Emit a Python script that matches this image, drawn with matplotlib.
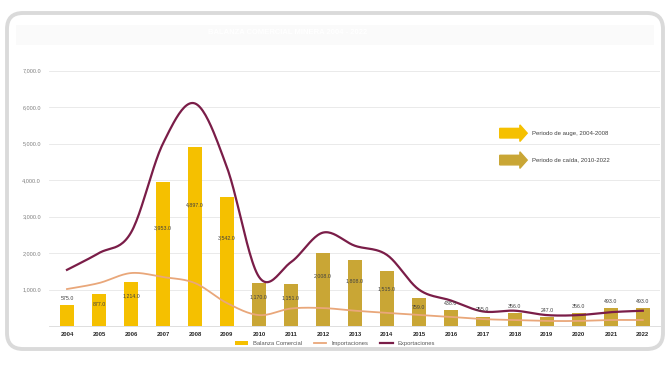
import numpy as np
import matplotlib
matplotlib.use("Agg")
import matplotlib.pyplot as plt
from matplotlib.patches import FancyBboxPatch, FancyArrow, Rectangle

plt.rcParams['font.family'] = ['Liberation Sans', 'DejaVu Sans']

years = [str(y) for y in range(2004, 2023)]
balanza = [575, 877, 1214, 3953, 4897, 3542, 1170, 1151, 2008, 1808, 1515,
           759, 438, 255, 356, 247, 356, 493, 493]
importaciones = [1014, 1178, 1452, 1342, 1178, 630, 300, 480, 493, 420, 360,
                 300, 250, 190, 165, 140, 140, 165, 165]
exportaciones = [1540, 2000, 2560, 5000, 6100, 4350, 1350, 1750, 2560, 2200, 1950,
                 1000, 700, 400, 420, 300, 300, 380, 420]
auge_label = "Periodo de auge, 2004-2008"
caida_label = "Periodo de caída, 2010-2022"
yticks = [1000, 2000, 3000, 4000, 5000, 6000, 7000]


def smooth(x, y, n=24):
    # catmull-rom curve through the points, like excel's smoothed lines
    x = np.asarray(x, float)
    y = np.asarray(y, float)
    px = np.concatenate([[x[0]], x, [x[-1]]])
    py = np.concatenate([[y[0]], y, [y[-1]]])
    xs, ys = [], []
    t = np.linspace(0, 1, n, endpoint=False)
    for i in range(1, len(px) - 2):
        for p, out in ((px, xs), (py, ys)):
            p0, p1, p2, p3 = p[i - 1], p[i], p[i + 1], p[i + 2]
            out.extend(0.5 * (2 * p1 + (-p0 + p2) * t
                              + (2 * p0 - 5 * p1 + 4 * p2 - p3) * t ** 2
                              + (-p0 + 3 * p1 - 3 * p2 + p3) * t ** 3))
    xs.append(x[-1])
    ys.append(y[-1])
    return np.array(xs), np.array(ys)


fig = plt.figure(figsize=(6.7, 3.8), dpi=100)
fig.patch.set_facecolor('white')

# rounded grey frame
fig.add_artist(FancyBboxPatch((7, 31), 656, 336, boxstyle="round,pad=0,rounding_size=16",
                              transform=None, facecolor='white', edgecolor='#dadada',
                              linewidth=2.8, zorder=0))
# faint title band
fig.add_artist(Rectangle((16, 335), 638, 20, transform=None, facecolor='#fafafa',
                         edgecolor='none', zorder=0.5))
fig.text(0.43, 0.915, "BALANZA COMERCIAL MINERA 2004 - 2022", color='white',
         fontsize=5.5, fontweight='bold', ha='center', va='center')

ax = fig.add_axes([0.0737, 0.142, 0.912, 0.701])
x = np.arange(len(years))

colors = ['#F5C000' if int(y) < 2010 else '#C9A635' for y in years]
bars = ax.bar(x, balanza, width=0.42, color=colors, zorder=2, label='Balanza Comercial')

sx, sy = smooth(x, importaciones)
l_imp, = ax.plot(sx, sy, color='#E9A77A', lw=1.3, zorder=3, label='Importaciones')
sx, sy = smooth(x, exportaciones)
l_exp, = ax.plot(sx, sy, color='#7A1D48', lw=1.6, zorder=4, label='Exportaciones')

for xi, v in zip(x, balanza):
    if v > 700:
        ty, va = v * 0.68, 'center'
    else:
        ty, va = v + 120, 'bottom'
    ax.text(xi, ty, f"{v:,.1f}", ha='center', va=va, fontsize=3.8, color='#404040', zorder=5)

ax.set_xlim(-0.55, len(years) - 0.45)
ax.set_ylim(0, 7300)
ax.set_yticks(yticks)
ax.set_yticklabels([f"{v:,.1f}" for v in yticks])
ax.set_xticks(x)
ax.set_xticklabels(years, fontweight='bold')
ax.tick_params(axis='y', labelsize=4, colors='#7f7f7f', length=0, pad=6)
ax.tick_params(axis='x', labelsize=4.2, colors='#262626', length=0, pad=4)
ax.grid(axis='y', color='#e6e6e6', lw=0.6, zorder=0)
for s in ax.spines.values():
    s.set_visible(False)
ax.spines['bottom'].set_visible(True)
ax.spines['bottom'].set_color('#d9d9d9')
ax.spines['bottom'].set_linewidth(0.6)
ax.set_facecolor('none')

# period arrows
for yy, col, lab in ((0.724, '#F5C000', auge_label), (0.623, '#C9A635', caida_label)):
    ax.add_patch(FancyArrow(0.737, yy, 0.033, 0, width=0.036, head_width=0.062,
                            head_length=0.012, length_includes_head=False,
                            transform=ax.transAxes, color=col, zorder=5))
    ax.text(0.79, yy, lab, transform=ax.transAxes, fontsize=4.3, color='#404040',
            va='center', ha='left')

fig.legend([bars, l_imp, l_exp], ['Balanza Comercial', 'Importaciones', 'Exportaciones'],
           loc='center', bbox_to_anchor=(0.5, 0.097), ncol=3, frameon=False,
           fontsize=4.2, handlelength=2.2, columnspacing=2.0, labelcolor='#595959')

plt.savefig('out.png', dpi=100, facecolor='white')
